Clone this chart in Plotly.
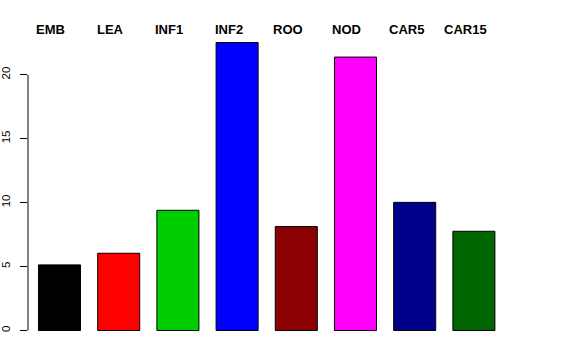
import plotly.graph_objects as go

categories = ["EMB", "LEA", "INF1", "INF2", "ROO", "NOD", "CAR5", "CAR15"]
values = [5.13, 6.04, 9.40, 22.52, 8.13, 21.38, 10.02, 7.76]
colors = ["#000000", "#FF0000", "#00CD00", "#0000FF", "#8B0000", "#FF00FF", "#00008B", "#006400"]
y_ticks = [0, 5, 10, 15, 20]

positions = list(range(len(categories)))

fig = go.Figure()
fig.add_trace(go.Bar(
    x=positions, y=values, width=0.71,
    marker=dict(color=colors, line=dict(color="#000000", width=1)),
    hoverinfo="skip", showlegend=False,
))

for p, c in zip(positions, categories):
    fig.add_annotation(x=p, y=1, xref="x", yref="paper", yshift=2, xshift=-8.5,
                       text="<b>" + c + "</b>", showarrow=False, yanchor="middle",
                       font=dict(family="Liberation Sans, Arial, sans-serif", size=13, color="#000000"))

fig.add_shape(type="line", xref="paper", yref="y", x0=0, x1=0, y0=y_ticks[0], y1=y_ticks[-1],
              line=dict(color="#000000", width=1))

fig.update_layout(
    width=576, height=360,
    margin=dict(l=28, r=29, t=31, b=17.5, autoexpand=False),
    plot_bgcolor="white", paper_bgcolor="white",
    xaxis=dict(range=[-0.532, 8.235], visible=False, showgrid=False, zeroline=False, automargin=False),
    yaxis=dict(range=[-0.9, 23.42], tickvals=y_ticks, ticktext=[str(v) for v in y_ticks],
               ticks="outside", ticklen=7, tickcolor="#000000", tickwidth=1,
               tickangle=-90, showgrid=False, zeroline=False, showline=False,
               ticklabelstandoff=5, automargin=False,
               tickfont=dict(family="Liberation Sans, Arial, sans-serif", size=11.5, color="#000000")),
    font=dict(family="Liberation Sans, Arial, sans-serif"),
)

fig.write_html("out.html", config={"displayModeBar": False},
               post_script="document.body.style.margin='0';")
